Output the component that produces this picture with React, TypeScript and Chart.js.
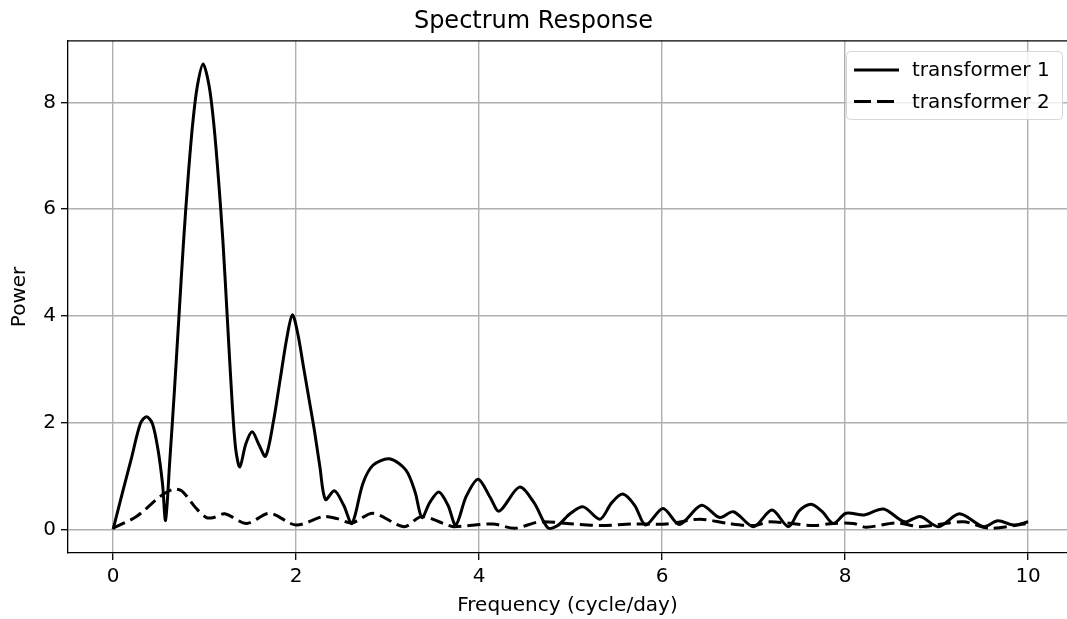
import React, { useEffect, useRef } from "react";
import { Chart, registerables } from "chart.js";

Chart.register(...registerables);

const titleText = "Spectrum Response";
const xLabel = "Frequency (cycle/day)";
const yLabel = "Power";
const xTickValues = [0, 2, 4, 6, 8, 10];
const yTickValues = [0, 2, 4, 6, 8];
const seriesNames = ["transformer 1", "transformer 2"];

const freq1 = [0, 0.1, 0.2, 0.3, 0.365, 0.43, 0.49, 0.54, 0.573, 0.62, 0.67, 0.72, 0.77, 0.82, 0.87, 0.92, 0.984, 1.05, 1.1, 1.15, 1.2, 1.25, 1.3, 1.34, 1.385, 1.45, 1.52, 1.59, 1.666, 1.75, 1.825, 1.9, 1.96, 2.02, 2.08, 2.14, 2.2, 2.26, 2.32, 2.42, 2.52, 2.61, 2.73, 2.84, 3.02, 3.2, 3.3, 3.375, 3.46, 3.56, 3.66, 3.745, 3.86, 3.99, 4.12, 4.22, 4.44, 4.6, 4.75, 4.85, 5.0, 5.14, 5.32, 5.45, 5.57, 5.7, 5.82, 6.01, 6.19, 6.43, 6.63, 6.78, 7.0, 7.2, 7.38, 7.5, 7.63, 7.75, 7.87, 8.01, 8.21, 8.42, 8.65, 8.82, 9.02, 9.25, 9.51, 9.67, 9.84, 10.0];
const power1 = [0, 0.675, 1.33, 1.99, 2.11, 1.98, 1.5, 0.85, 0.17, 1.3, 2.6, 4.0, 5.4, 6.6, 7.6, 8.3, 8.72, 8.3, 7.6, 6.6, 5.4, 3.9, 2.4, 1.5, 1.17, 1.6, 1.83, 1.6, 1.37, 2.0, 2.8, 3.6, 4.02, 3.65, 3.05, 2.45, 1.85, 1.17, 0.56, 0.72, 0.45, 0.11, 0.86, 1.2, 1.32, 1.11, 0.7, 0.22, 0.5, 0.7, 0.45, 0.08, 0.62, 0.94, 0.6, 0.34, 0.79, 0.5, 0.03, 0.06, 0.3, 0.42, 0.19, 0.5, 0.66, 0.45, 0.08, 0.39, 0.09, 0.45, 0.22, 0.33, 0.05, 0.36, 0.05, 0.35, 0.47, 0.33, 0.11, 0.3, 0.27, 0.38, 0.14, 0.24, 0.05, 0.29, 0.05, 0.16, 0.08, 0.14];

const freq2 = [0, 0.255, 0.51, 0.656, 0.75, 0.91, 1.02, 1.1, 1.22, 1.46, 1.71, 2.0, 2.3, 2.45, 2.61, 2.84, 3.18, 3.37, 3.61, 3.72, 4.15, 4.39, 4.66, 4.96, 5.32, 5.68, 6.05, 6.41, 6.72, 7.0, 7.18, 7.65, 7.87, 8.09, 8.23, 8.56, 8.82, 9.29, 9.58, 10.0];
const power2 = [0.02, 0.24, 0.61, 0.75, 0.72, 0.39, 0.22, 0.22, 0.29, 0.11, 0.3, 0.08, 0.24, 0.2, 0.12, 0.3, 0.05, 0.24, 0.11, 0.05, 0.1, 0.02, 0.14, 0.11, 0.07, 0.1, 0.1, 0.19, 0.11, 0.07, 0.14, 0.07, 0.11, 0.11, 0.04, 0.12, 0.05, 0.14, 0.02, 0.11];

const FONT = "'DejaVu Sans', sans-serif";
const LINE_W = 3;
const DASH = [13, 6];

const topSpine = {
  id: "topSpine",
  afterDraw(chart: any) {
    const { ctx, chartArea } = chart;
    ctx.save();
    ctx.strokeStyle = "#000";
    ctx.lineWidth = 1.3;
    ctx.beginPath();
    ctx.moveTo(chartArea.left, chartArea.top);
    ctx.lineTo(chartArea.right, chartArea.top);
    ctx.stroke();
    ctx.restore();
  },
};

const customLegend = {
  id: "customLegend",
  afterDraw(chart: any) {
    const { ctx } = chart;
    const bx = 846.5, by = 51.5, bw = 216, bh = 68, r = 4;
    ctx.save();
    ctx.beginPath();
    ctx.moveTo(bx + r, by);
    ctx.lineTo(bx + bw - r, by);
    ctx.quadraticCurveTo(bx + bw, by, bx + bw, by + r);
    ctx.lineTo(bx + bw, by + bh - r);
    ctx.quadraticCurveTo(bx + bw, by + bh, bx + bw - r, by + bh);
    ctx.lineTo(bx + r, by + bh);
    ctx.quadraticCurveTo(bx, by + bh, bx, by + bh - r);
    ctx.lineTo(bx, by + r);
    ctx.quadraticCurveTo(bx, by, bx + r, by);
    ctx.closePath();
    ctx.fillStyle = "rgba(255,255,255,0.8)";
    ctx.fill();
    ctx.strokeStyle = "#d6d6d6";
    ctx.lineWidth = 1;
    ctx.stroke();

    const rows = [70, 101.5];
    const dashes = [[], [17, 6]];
    ctx.font = `20px ${FONT}`;
    ctx.textBaseline = "middle";
    ctx.textAlign = "left";
    seriesNames.forEach((name, i) => {
      ctx.beginPath();
      ctx.setLineDash(dashes[i]);
      ctx.strokeStyle = "#000";
      ctx.lineWidth = LINE_W;
      ctx.moveTo(854, rows[i]);
      ctx.lineTo(899, rows[i]);
      ctx.stroke();
      ctx.setLineDash([]);
      ctx.fillStyle = "#000";
      ctx.fillText(name, 912, rows[i] + 1);
    });
    ctx.restore();
  },
};

export default function App() {
  const ref = useRef<HTMLCanvasElement | null>(null);

  useEffect(() => {
    if (!ref.current) return;
    const chart = new Chart(ref.current, {
      type: "line",
      data: {
        datasets: [
          {
            label: seriesNames[0],
            data: freq1.map((x, i) => ({ x, y: power1[i] })),
            borderColor: "#000",
            borderWidth: LINE_W,
            pointRadius: 0,
            fill: false,
            tension: 0.3,
            borderJoinStyle: "round",
          },
          {
            label: seriesNames[1],
            data: freq2.map((x, i) => ({ x, y: power2[i] })),
            borderColor: "#000",
            borderWidth: LINE_W,
            borderDash: DASH,
            pointRadius: 0,
            fill: false,
            tension: 0.3,
          },
        ],
      },
      options: {
        animation: false,
        responsive: false,
        maintainAspectRatio: false,
        layout: { padding: 0 },
        plugins: {
          legend: { display: false },
          tooltip: { enabled: false },
          title: {
            display: true,
            text: titleText,
            color: "#000",
            font: { family: FONT, size: 24, weight: "normal" },
            padding: { top: 7, bottom: 5 },
          },
        },
        scales: {
          x: {
            type: "linear",
            min: -0.493,
            max: 10.425,
            afterBuildTicks: (scale: any) => {
              scale.ticks = xTickValues.map((v) => ({ value: v }));
            },
            afterFit: (scale: any) => {
              scale.height = 66;
            },
            ticks: {
              color: "#000",
              font: { family: FONT, size: 20 },
              padding: 5,
              maxRotation: 0,
              autoSkip: false,
              callback: (v: any) => String(v),
            },
            grid: {
              color: "#b0b0b0",
              lineWidth: 1.4,
              tickLength: 7,
              tickColor: "#000",
              tickWidth: 1.3,
            },
            border: { display: true, color: "#000", width: 1.3 },
            title: {
              display: true,
              text: xLabel,
              color: "#000",
              font: { family: FONT, size: 20 },
              padding: { top: 0, bottom: 1 },
            },
          },
          y: {
            type: "linear",
            min: -0.444,
            max: 9.153,
            afterBuildTicks: (scale: any) => {
              scale.ticks = yTickValues.map((v) => ({ value: v }));
            },
            afterFit: (scale: any) => {
              scale.width = 68;
            },
            ticks: {
              color: "#000",
              font: { family: FONT, size: 20 },
              padding: 5,
              autoSkip: false,
              callback: (v: any) => String(v),
            },
            grid: {
              color: "#b0b0b0",
              lineWidth: 1.4,
              tickLength: 7,
              tickColor: "#000",
              tickWidth: 1.3,
            },
            border: { display: true, color: "#000", width: 1.3 },
            title: {
              display: true,
              text: yLabel,
              color: "#000",
              font: { family: FONT, size: 20 },
              padding: { top: 8, bottom: 0 },
            },
          },
        },
      },
      plugins: [topSpine, customLegend],
    });
    return () => chart.destroy();
  }, []);

  return (
    <div style={{ position: "fixed", left: 0, top: 0, width: 1067, height: 619, background: "#fff" }}>
      <canvas ref={ref} width={1067} height={619} style={{ width: 1067, height: 619, display: "block" }} />
    </div>
  );
}
